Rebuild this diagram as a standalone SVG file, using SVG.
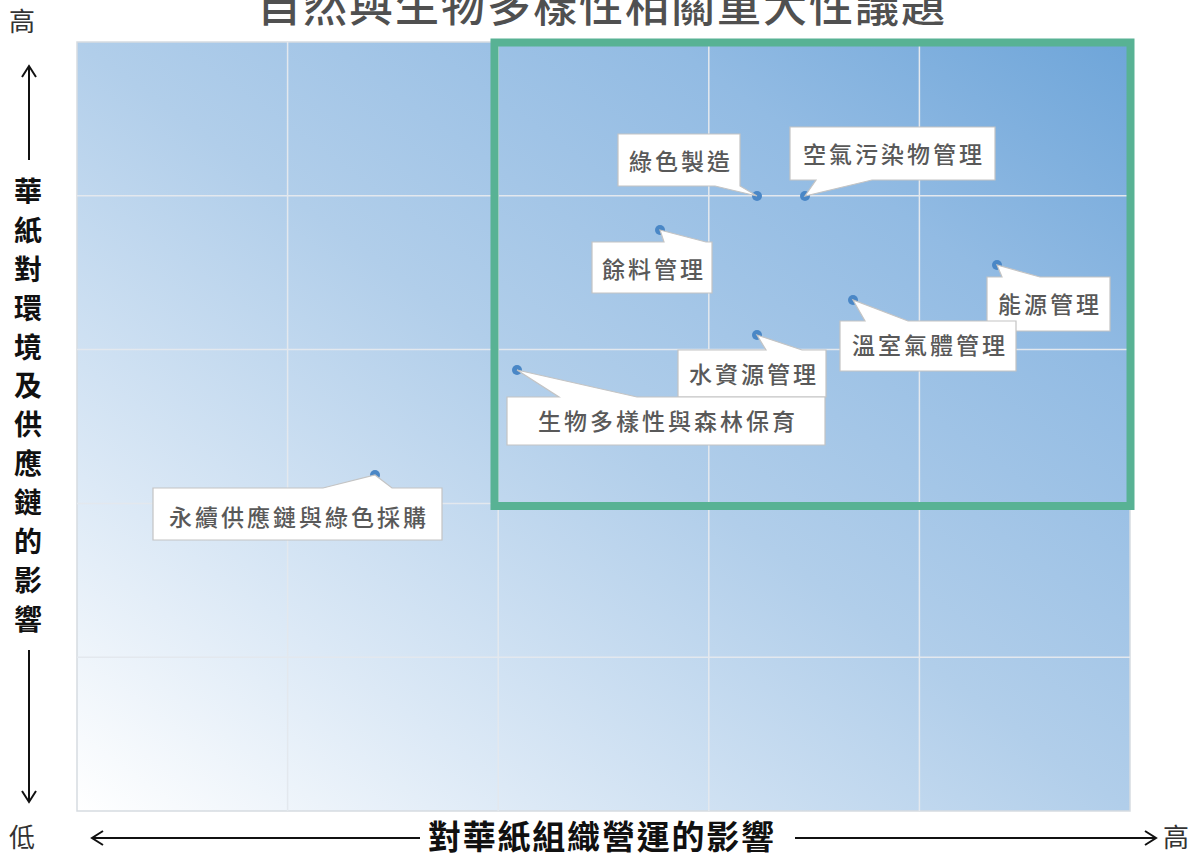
<svg xmlns="http://www.w3.org/2000/svg" width="1200" height="859" viewBox="0 0 1200 859">
<defs>
  <linearGradient id="bg" gradientUnits="objectBoundingBox" x1="0" y1="1" x2="1" y2="0">
    <stop offset="0" stop-color="#ffffff"/>
    <stop offset="0.22" stop-color="#dce9f6"/>
    <stop offset="0.5" stop-color="#b1ceea"/>
    <stop offset="0.78" stop-color="#92bbe3"/>
    <stop offset="1" stop-color="#6ea5d9"/>
  </linearGradient>
  <style>
    .cjk { font-family: "Noto Sans CJK TC", "Noto Sans CJK SC", sans-serif; }
    .title { font-size: 44px; font-weight: 500; fill: #505050; letter-spacing: 2px; }
    .axis { font-size: 28px; font-weight: bold; fill: #111; }
    .end { font-size: 26px; fill: #333; }
    .grid { stroke: #e3e8ee; stroke-width: 1.5; fill: none; }
    .box { fill: #ffffff; stroke: #c4c4c4; stroke-width: 1.2; }
    .lbl { font-size: 23px; font-weight: 500; fill: #595959; letter-spacing: 3px; text-anchor: middle; }
    .dot { fill: #4a87c6; }
    .arr { stroke: #111; stroke-width: 2; fill: none; }
  </style>
</defs>

<text class="cjk title" x="602" y="22" text-anchor="middle">自然與生物多樣性相關重大性議題</text>

<g id="plot">
  <rect x="77" y="42" width="1053" height="769" fill="url(#bg)" stroke="#d6dbe1" stroke-width="1.5"/>
  <path class="grid" d="M287.6 42V811M498.2 42V811M708.8 42V811M919.4 42V811M77 195.8H1130M77 349.6H1130M77 503.4H1130M77 657.2H1130"/>
</g>

<g id="focus">
  <rect x="494.5" y="42.5" width="636" height="463.5" fill="none" stroke="#58b294" stroke-width="8"/>
</g>

<g id="axes">
  <text class="cjk end" x="22" y="31" text-anchor="middle">高</text>
  <text class="cjk end" x="22" y="847" text-anchor="middle">低</text>
  <text class="cjk end" x="1176" y="847" text-anchor="middle">高</text>
  <g class="cjk axis" text-anchor="middle">
    <text x="28" y="202">華</text>
    <text x="28" y="241">紙</text>
    <text x="28" y="280">對</text>
    <text x="28" y="319">環</text>
    <text x="28" y="358">境</text>
    <text x="28" y="396">及</text>
    <text x="28" y="435">供</text>
    <text x="28" y="474">應</text>
    <text x="28" y="513">鏈</text>
    <text x="28" y="552">的</text>
    <text x="28" y="591">影</text>
    <text x="28" y="630">響</text>
  </g>
  <text class="cjk" x="601" y="849" text-anchor="middle" font-size="33" font-weight="bold" fill="#111" textLength="346">對華紙組織營運的影響</text>
</g>

<g id="connectors">
  <path class="arr" d="M29 160V66M22 77L29 66L36 77"/>
  <path class="arr" d="M29 650V802M22 791L29 802L36 791"/>
  <path class="arr" d="M420 838H92M103 831L92 838L103 845"/>
  <path class="arr" d="M795 838H1156M1145 831L1156 838L1145 845"/>
</g>

<g id="n-green-mfg">
  <circle class="dot" cx="757" cy="196" r="5"/>
  <path class="box" d="M618 134H740V186L757 196L715 186H618Z"/>
  <text class="cjk lbl" x="681" y="170">綠色製造</text>
</g>

<g id="n-air">
  <circle class="dot" cx="805" cy="196" r="5"/>
  <path class="box" d="M790 127H995V180H872L805 196L816 180H790Z"/>
  <text class="cjk lbl" x="894" y="163">空氣污染物管理</text>
</g>

<g id="n-waste">
  <circle class="dot" cx="660" cy="230" r="5"/>
  <path class="box" d="M592 242H664L660 230L706 242H712V293H592Z"/>
  <text class="cjk lbl" x="654" y="278">餘料管理</text>
</g>

<g id="n-energy">
  <circle class="dot" cx="997" cy="265" r="5"/>
  <path class="box" d="M987 277H1002L997 265L1040 277H1110V331H987Z"/>
  <text class="cjk lbl" x="1050" y="313">能源管理</text>
</g>

<g id="n-ghg">
  <circle class="dot" cx="853" cy="300" r="5"/>
  <path class="box" d="M840 321H865L853 300L908 321H1016V371H840Z"/>
  <text class="cjk lbl" x="930" y="354">溫室氣體管理</text>
</g>

<g id="n-water">
  <circle class="dot" cx="757" cy="335" r="5"/>
  <path class="box" d="M678 350H766L757 335L802 350H826V397H678Z"/>
  <text class="cjk lbl" x="754" y="383">水資源管理</text>
</g>

<g id="n-bio">
  <circle class="dot" cx="517" cy="370" r="5"/>
  <path class="box" d="M507 397H559L517 370L637 397H825V445H507Z"/>
  <text class="cjk lbl" x="668" y="430">生物多樣性與森林保育</text>
</g>

<g id="n-supply">
  <circle class="dot" cx="375" cy="475" r="5"/>
  <path class="box" d="M153 488H323L375 475L392 488H442V540H153Z"/>
  <text class="cjk lbl" x="299" y="526">永續供應鏈與綠色採購</text>
</g>
</svg>
